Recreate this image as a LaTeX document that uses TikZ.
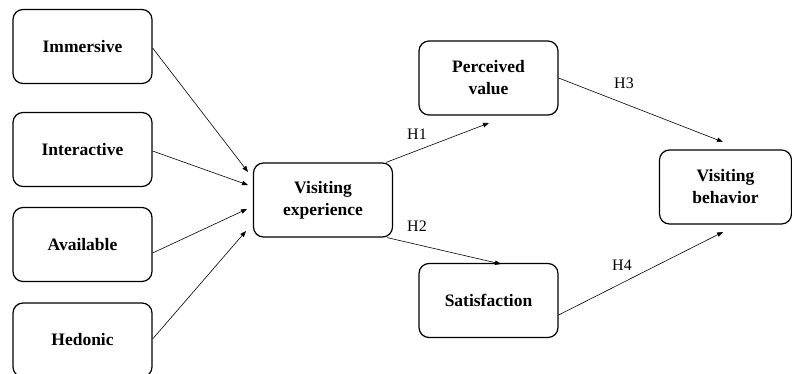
\documentclass[tikz,border=0pt]{standalone}
\usepackage{fontspec}
\setmainfont{Liberation Serif}
\usetikzlibrary{arrows.meta}
\tikzset{
  box/.style={draw=black, line width=1.2pt, rounded corners=10pt, minimum width=139pt, minimum height=74pt, inner sep=0pt, align=center, font=\bfseries\fontsize{17.5}{22}\selectfont},
  link/.style={draw=black, line width=0.6pt, -{Triangle[length=6pt,width=4.5pt]}},
  hlab/.style={font=\fontsize{16}{18}\selectfont, inner sep=0pt}
}
\begin{document}
\begin{tikzpicture}[x=1pt,y=-1pt]
\useasboundingbox (0,0) rectangle (792,374);
\node[box] (imm) at (82.5,46.5) {Immersive};
\node[box] (int) at (82.5,149.5) {Interactive};
\node[box] (ava) at (82.5,244.5) {Available};
\node[box] (hed) at (82.5,340) {Hedonic};
\node[box] (ve) at (323,200) {Visiting\\experience};
\node[box] (pv) at (488.5,78) {Perceived\\value};
\node[box] (sat) at (488.5,300.5) {Satisfaction};
\node[box, minimum width=132pt] (vb) at (725.5,187) {Visiting\\behavior};
\coordinate (t1) at (248,172);
\coordinate (t2) at (248,185);
\coordinate (t3) at (247,209);
\coordinate (t4) at (246,231);
\coordinate (tpv) at (489,123);
\coordinate (tsat) at (501,264);
\coordinate (tvb1) at (723,142);
\coordinate (tvb2) at (723,232);
\draw[link] (imm.east |- 0,48) -- (t1);
\draw[link] (int.east |- 0,151) -- (t2);
\draw[link] (ava.east |- 0,253) -- (t3);
\draw[link] (hed.east |- 0,339) -- (t4);
\draw[link] (ve.north east) ++(-7,0) coordinate (s1) (s1) -- (tpv);
\draw[link] (ve.south east) ++(-6,0) coordinate (s2) (s2) -- (tsat);
\draw[link] (pv.east |- 0,78) -- (tvb1);
\draw[link] (sat.east |- 0,315) -- (tvb2);
\node[hlab] (h1) at (417,134) {H1};
\node[hlab] (h2) at (417,226) {H2};
\node[hlab] (h3) at (624,83) {H3};
\node[hlab] (h4) at (622,265) {H4};
\end{tikzpicture}
\end{document}
